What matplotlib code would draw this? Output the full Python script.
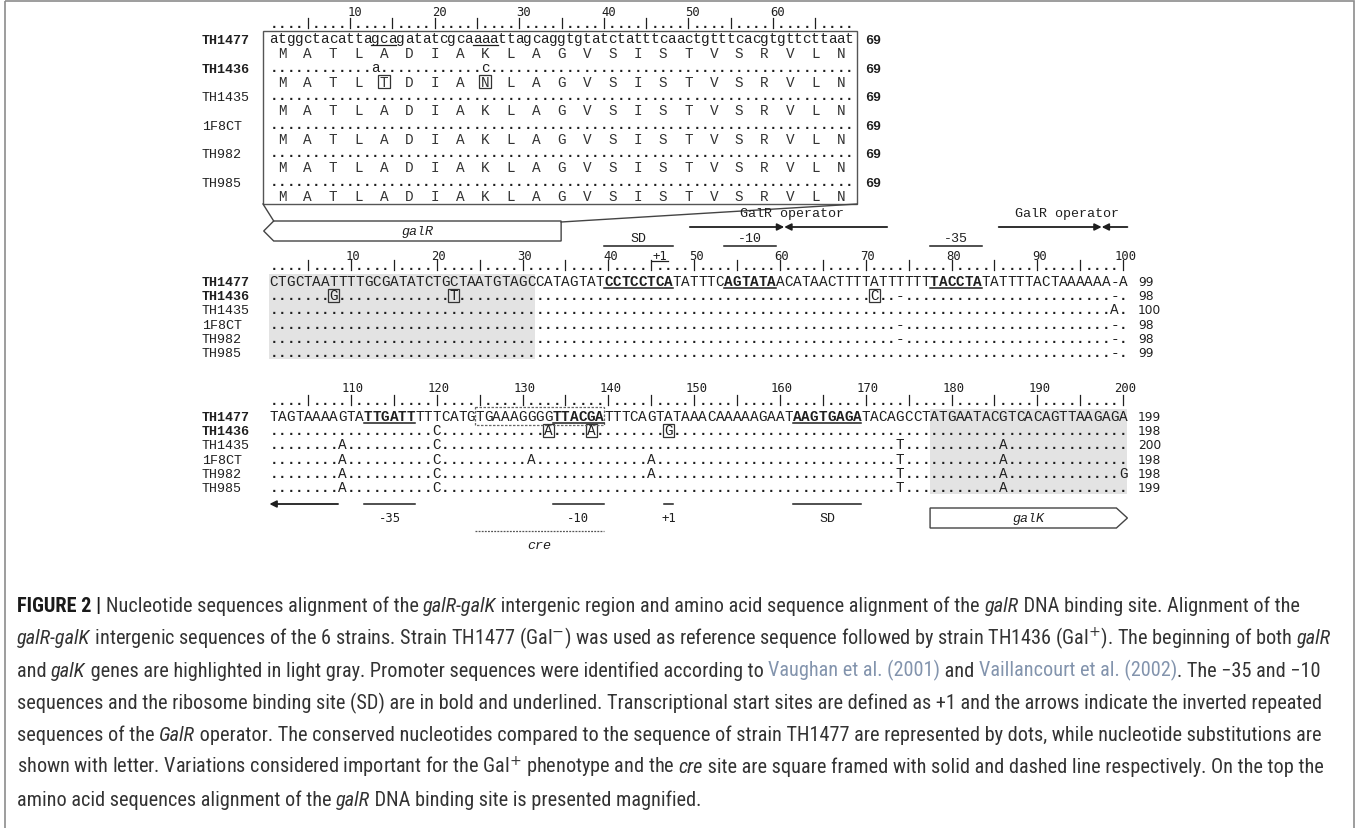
import matplotlib
matplotlib.use("Agg")
import matplotlib.pyplot as plt
from matplotlib.patches import Rectangle, Polygon
from matplotlib import font_manager

# strains, in the order they are listed
strains = ["TH1477", "TH1436", "TH1435", "1F8CT", "TH982", "TH985"]
bold_strains = {"TH1477", "TH1436"}

# galR DNA binding site (magnified box)
galr_nt = "atggctacattagcagatatcgcaaaattagcaggtgtatctatttcaactgtttcacgtgttcttaat"
galr_aa = "MATLADIAKLAGVSISTVSRVLN"
galr_nt_subs = {"TH1436": {13: "a", 26: "c"}}
galr_aa_subs = {"TH1436": {5: "T", 9: "N"}}
galr_marked = [(13, 15), (25, 27)]

# galR-galK intergenic region of TH1477, alignment positions 1-200
ref_seq = ("CTGCTAATTTTGCGATATCTGCTAATGTAGCCATAGTATCCTCCTCATATTTCAGTATAACATAACTTTTATTTTTTTACCTATATTTTACTAAAAAA-A"
           "TAGTAAAAGTATTGATTTTTCATGTGAAAGGGGTTACGATTTCAGTATAAACAAAAAGAATAAGTGAGATACAGCCTATGAATACGTCACAGTTAAGAGA")

# differences to TH1477 by alignment position
subs = {
    "TH1436": {8: "G", 22: "T", 71: "C", 74: "-", 120: "C", 133: "A", 138: "A", 147: "G"},
    "TH1435": {99: "A", 109: "A", 120: "C", 174: "T", 186: "A"},
    "1F8CT": {74: "-", 109: "A", 120: "C", 131: "A", 145: "A", 174: "T", 186: "A"},
    "TH982": {74: "-", 109: "A", 120: "C", 145: "A", 174: "T", 186: "A", 200: "G"},
    "TH985": {109: "A", 120: "C", 174: "T", 186: "A"},
}
framed = {"TH1436": [8, 22, 71, 133, 138, 147]}

bold_sites = [(40, 47), (54, 59), (78, 83), (112, 117), (134, 139), (162, 169)]
upper_sites = [("SD", 40, 47), ("-10", 54, 59), ("-35", 78, 83)]
lower_sites = [("-35", 112, 117), ("-10", 134, 139), ("+1", 147, 147), ("SD", 162, 169)]
upper_tss = 46
operators = [(50, 60, 61, 72), (86, 97, 98, 100)]
operator_tail = (101, 108)
cre_site = (125, 139)
galr_gene = (1, 34)
galk_gene = (178, 200)
shaded = [(1, 31), (178, 200)]

caption = [
    [("FIGURE 2 | ", "b"), ("Nucleotide sequences alignment of the ", ""), ("galR-galK", "i"),
     (" intergenic region and amino acid sequence alignment of the ", ""), ("galR", "i"),
     (" DNA binding site. Alignment of the", "")],
    [("galR-galK", "i"), (" intergenic sequences of the 6 strains. Strain TH1477 (Gal$^{-}$) was used as "
                          "reference sequence followed by strain TH1436 (Gal$^{+}$). The beginning of both ", ""),
     ("galR", "i")],
    [("and ", ""), ("galK", "i"), (" genes are highlighted in light gray. Promoter sequences were identified according to ", ""),
     ("Vaughan et al. (2001)", "c"), (" and ", ""), ("Vaillancourt et al. (2002)", "c"), (". The \u221235 and \u221210", "")],
    [("sequences and the ribosome binding site (SD) are in bold and underlined. Transcriptional start sites are "
      "defined as +1 and the arrows indicate the inverted repeated", "")],
    [("sequences of the ", ""), ("GalR", "i"), (" operator. The conserved nucleotides compared to the sequence of "
                                                "strain TH1477 are represented by dots, while nucleotide substitutions are", "")],
    [("shown with letter. Variations considered important for the Gal$^{+}$ phenotype and the ", ""), ("cre", "i"),
     (" site are square framed with solid and dashed line respectively. On the top the", "")],
    [("amino acid sequences alignment of the ", ""), ("galR", "i"), (" DNA binding site is presented magnified.", "")],
]
# right ends of the caption lines
caption_ends = [1324, 1345, 1332, 1318, 1336, 1328, 700]

INK = "#1f1f1f"
SHADE = "#e3e3e3"
MONO = "Liberation Mono"
NUMF = "DejaVu Sans Mono"
SEQ_PT = 10.4
LAB_PT = 9.6
NUM_PT = 8.8

W, H = 1360, 829
fig = plt.figure(figsize=(W / 100, H / 100), dpi=100)
ax = fig.add_axes([0, 0, 1, 1])
ax.set_xlim(0, W)
ax.set_ylim(H, 0)
ax.axis("off")

# outer frame
ax.add_patch(Rectangle((5, 2), 1349, 840, fill=False, ec="#8c8c8c", lw=1.2))


def char(x, y, s, bold=False, size=SEQ_PT, family=MONO, **kw):
    ax.text(x, y, s, fontsize=size, family=family, fontweight="bold" if bold else "normal",
            ha="center", va="baseline", color=kw.pop("color", INK), **kw)


def strain_char(name, p, seq, table):
    if name == strains[0]:
        return seq[p - 1]
    c = table.get(name, {}).get(p)
    if c is None:
        return "-" if seq[p - 1] == "-" else "."
    return c


def ruler(xf, first, last, y_base, y_num, num_dx=2):
    for p in range(first, last + 1):
        x = xf(p)
        if p % 5:
            char(x, y_base, ".", bold=True)
        else:
            ax.plot([x, x], [y_base - 9, y_base + 1], color=INK, lw=0.9)
        if p % 10 == 0:
            ax.text(x + num_dx, y_num, str(p), fontsize=NUM_PT, family=NUMF, ha="center",
                    va="center", color=INK)


# ---------------- magnified galR box ----------------
def xt(p):
    return 273.9 + (p - 1) * 8.46


TOP_Y0, TOP_STEP, AA_DY = 40, 28.6, 14
BOX_TOP, BOX_BOTTOM = 32, 205
ruler(xt, 1, len(galr_nt), 28, 12, num_dx=4.5)
ax.add_patch(Rectangle((263, BOX_TOP), 857 - 263, BOX_BOTTOM - BOX_TOP, fill=False, ec="#555555", lw=1.0))

for i, name in enumerate(strains):
    y = TOP_Y0 + i * TOP_STEP
    ax.text(202, y + 4, name, fontsize=LAB_PT, family=MONO, va="baseline",
            fontweight="bold" if name in bold_strains else "normal", color=INK)
    for p in range(1, len(galr_nt) + 1):
        c = strain_char(name, p, galr_nt, galr_nt_subs)
        char(xt(p), y + 3, c, bold=(c == "."))
    n = sum(1 for p in range(1, len(galr_nt) + 1) if strain_char(name, p, galr_nt, galr_nt_subs) != "-")
    ax.text(865, y + 4, str(n), fontsize=LAB_PT, family=MONO, fontweight="bold", va="baseline", color=INK)
    ya = y + AA_DY
    for k, aa in enumerate(galr_aa, 1):
        c = galr_aa_subs.get(name, {}).get(k, aa)
        x = xt(3 * k - 1)
        char(x, ya + 4, c, color="#333333")
        if k in galr_aa_subs.get(name, {}):
            ax.add_patch(Rectangle((x - 6, ya - 7), 12, 13, fill=False, ec="#333333", lw=0.9))

for a, b in galr_marked:
    ax.plot([xt(a) - 4, xt(b) + 4], [TOP_Y0 + 6, TOP_Y0 + 6], color=INK, lw=0.9)


# ---------------- intergenic alignment ----------------
def xb(p):
    q = (p - 1) % 100 + 1
    return 273.7 + (q - 1) * 8.58


HALF = 4.29
STEP = 14.2
blocks = [dict(first=1, last=100, row0=282, ruler=270, num=256),
          dict(first=101, last=200, row0=417, ruler=405, num=388)]

for blk in blocks:
    f, l, r0 = blk["first"], blk["last"], blk["row0"]
    for g0, g1 in shaded:
        if f <= g0 <= l:
            ax.add_patch(Rectangle((xb(g0) - HALF, r0 - 7), xb(g1) - xb(g0) + 2 * HALF,
                                   5 * STEP + 14, color=SHADE, lw=0, zorder=0))
    ruler(xb, f, l, blk["ruler"], blk["num"])
    for i, name in enumerate(strains):
        y = r0 + i * STEP
        ax.text(202, y + 4, name, fontsize=LAB_PT, family=MONO, va="baseline",
                fontweight="bold" if name in bold_strains else "normal", color=INK)
        for p in range(f, l + 1):
            c = strain_char(name, p, ref_seq, subs)
            bold = c == "." or (i == 0 and any(a <= p <= b for a, b in bold_sites))
            char(xb(p), y + 4, c, bold=bold)
            if p in framed.get(name, []):
                ax.add_patch(Rectangle((xb(p) - 5.5, y - 6.5), 11, 13, fill=False, ec="#333333", lw=0.9))
        n = sum(1 for p in range(1, l + 1) if strain_char(name, p, ref_seq, subs) != "-")
        ax.text(1138, y + 4, str(n), fontsize=NUM_PT, family="DejaVu Sans", va="baseline", color=INK)
    for a, b in bold_sites:
        if f <= a <= l:
            ax.plot([xb(a) - HALF, xb(b) + HALF], [r0 + 6.5, r0 + 6.5], color=INK, lw=1.1)

# cre site framed with a dashed line
r0 = blocks[1]["row0"]
ax.add_patch(Rectangle((xb(cre_site[0]) - HALF, r0 - 9), xb(cre_site[1]) - xb(cre_site[0]) + 2 * HALF, 18,
                       fill=False, ec="#666666", lw=0.9, ls=(0, (2, 1.2))))

# features above the first block
for lab, a, b in upper_sites:
    ax.plot([xb(a) - HALF, xb(b) + HALF], [247, 247], color=INK, lw=1.1)
    ax.text((xb(a) + xb(b)) / 2, 245, lab, fontsize=LAB_PT, family=MONO, ha="center", va="bottom", color=INK)
ax.text(xb(upper_tss), 256, "+1", fontsize=NUM_PT, family=NUMF, ha="center", va="center", color=INK)
ax.plot([xb(upper_tss) - 8, xb(upper_tss) + 8], [261.5, 261.5], color=INK, lw=0.9)

arrow = dict(arrowstyle="-|>", color=INK, lw=1.3, shrinkA=0, shrinkB=0, mutation_scale=10)
for r1, r2, l1, l2 in operators:
    ax.annotate("", xy=(xb(r2) + HALF, 228), xytext=(xb(r1) - HALF, 228), arrowprops=arrow)
    ax.annotate("", xy=(xb(l1) - HALF, 228), xytext=(xb(l2) + HALF, 228), arrowprops=arrow)
    ax.text((xb(r1) + xb(l2)) / 2 + 4, 214, "GalR operator", fontsize=LAB_PT, family=MONO,
            ha="center", va="center", color=INK)

# galR gene (reverse strand) with the lines opening to the magnified box
gx0, gx1 = xb(galr_gene[0]) - 4 - 6, xb(galr_gene[1]) + HALF
ax.add_patch(Polygon([(gx0, 232), (gx0 + 10, 222), (gx1, 222), (gx1, 242), (gx0 + 10, 242)],
                     closed=True, fc="white", ec="#444444", lw=1.0))
ax.text(417, 232, "galR", fontsize=LAB_PT, family=MONO, style="italic", ha="center", va="center", color=INK)
ax.plot([263, gx0 + 10], [BOX_BOTTOM, 222], color="#444444", lw=1.0)
ax.plot([857, gx1], [BOX_BOTTOM, 223], color="#444444", lw=1.0)

# features below the second block
ax.annotate("", xy=(xb(operator_tail[0]) - HALF, 505), xytext=(xb(operator_tail[1]) + HALF, 505), arrowprops=arrow)
for lab, a, b in lower_sites:
    ax.plot([xb(a) - HALF, xb(b) + HALF], [505, 505], color=INK, lw=1.1)
    ax.text((xb(a) + xb(b)) / 2, 519, lab, fontsize=LAB_PT if lab == "SD" else NUM_PT,
            family=MONO if lab == "SD" else NUMF, ha="center", va="center", color=INK)
ax.plot([xb(cre_site[0]) - HALF, xb(cre_site[1]) + HALF], [532, 532], color="#555555", lw=0.9, ls=(0, (1.5, 1)))
ax.text((xb(cre_site[0]) + xb(cre_site[1])) / 2, 546, "cre", fontsize=LAB_PT, family=MONO, style="italic",
        ha="center", va="center", color=INK)
gl, gr = xb(galk_gene[0]) - HALF, xb(galk_gene[1]) + HALF
ax.add_patch(Polygon([(gl, 509), (gr - 11, 509), (gr, 519), (gr - 11, 529), (gl, 529)],
                     closed=True, fc="white", ec="#444444", lw=1.0))
ax.text((gl + gr) / 2, 519, "galK", fontsize=LAB_PT, family=MONO, style="italic", ha="center", va="center", color=INK)

# ---------------- caption ----------------
installed = {f.name for f in font_manager.fontManager.ttflist}
cap_family = next(f for f in ["Liberation Sans Narrow", "Roboto Condensed", "Roboto", "Liberation Sans", "DejaVu Sans"]
                  if f in installed)
renderer = fig.canvas.get_renderer()


def run_kw(code, size):
    kw = dict(fontsize=size, family=[cap_family, "DejaVu Sans"], color="#333333", va="baseline")
    if "b" in code:
        kw.update(fontweight="bold", color="#1a1a1a")
    if "i" in code:
        kw["fontstyle"] = "italic"
    if "c" in code:
        kw["color"] = "#8394ad"
    return kw


def width_of(s, kw):
    a = ax.text(0, 0, "|" + s + "|", **kw)
    b = ax.text(0, 0, "||", **kw)
    w = a.get_window_extent(renderer).width - b.get_window_extent(renderer).width
    a.remove()
    b.remove()
    return w


base = 12.0
fits = []
for line, end in zip(caption, caption_ends):
    w = sum(width_of(s, run_kw(c, base)) for s, c in line)
    fits.append((end - 17) / w)
cap_pt = base * min(fits)

for i, line in enumerate(caption):
    x = 17
    y = 606 + i * 32.3 + 6
    for s, c in line:
        kw = run_kw(c, cap_pt)
        ax.text(x, y, s, **kw)
        x += width_of(s, kw)

fig.savefig("out.png", dpi=100, facecolor="white")
